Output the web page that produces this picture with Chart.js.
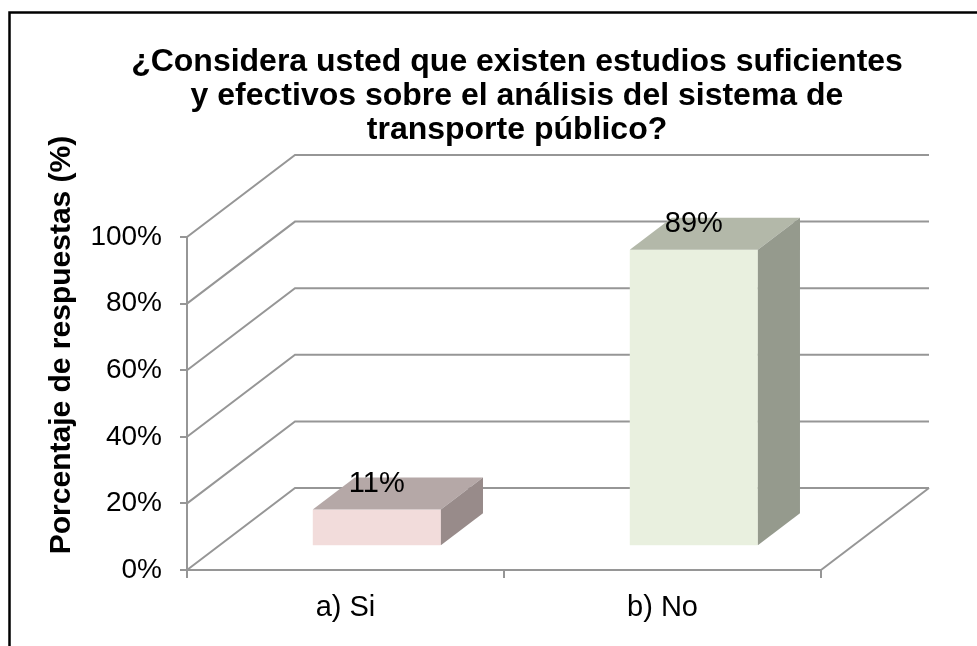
<!DOCTYPE html>
<html>
<head>
<meta charset="utf-8">
<script src="https://cdn.jsdelivr.net/npm/chart.js@4/dist/chart.umd.min.js"></script>
<style>
  html, body { margin: 0; padding: 0; background: #fff; }
  #wrap { width: 977px; height: 646px; }
</style>
</head>
<body>
<div id="wrap"><canvas id="surveyChart" width="977" height="646"></canvas></div>
<script>
// datos
const categories = ['a) Si', 'b) No'];
const percentValues = [11, 89];
const tickValues = [0, 20, 40, 60, 80, 100];
const frontColors = ['#f2dcdb', '#e9f0df'];
const topColors = ['#b5a8a7', '#b3b8a9'];
const sideColors = ['#988b8a', '#959a8d'];

const chartTitle = ['¿Considera usted que existen estudios suficientes',
                    'y efectivos sobre el análisis del sistema de',
                    'transporte público?'];
const yTitle = 'Porcentaje de respuestas (%)';

// desplazamiento de la pared del fondo (efecto 3D)
const DEPTH_X = 108, DEPTH_Y = -82;
const BAR_FRONT = 0.29, BAR_DEPTH = 0.39;
const GRID = '#969696';
const FONT = '"Liberation Sans", Arial, sans-serif';

const fake3d = {
    id: 'fake3d',
    beforeDraw(chart) {
        const ctx = chart.ctx;
        ctx.save();
        // marco exterior
        ctx.strokeStyle = '#000';
        ctx.lineWidth = 2.5;
        ctx.strokeRect(9.5, 12.5, 1000, 700);
        // titulo
        ctx.fillStyle = '#000';
        ctx.font = 'bold 32px ' + FONT;
        ctx.textAlign = 'center';
        ctx.textBaseline = 'middle';
        chartTitle.forEach((line, i) => ctx.fillText(line, 517, 62 + i * 34));
        // titulo del eje y
        ctx.font = 'bold 30px ' + FONT;
        ctx.translate(62, 345);
        ctx.rotate(-Math.PI / 2);
        ctx.fillText(yTitle, 0, 0);
        ctx.restore();
    },
    beforeDatasetsDraw(chart) {
        const ctx = chart.ctx;
        const y = chart.scales.y;
        const a = chart.chartArea;
        ctx.save();
        ctx.strokeStyle = GRID;
        ctx.lineWidth = 2;
        // lineas de cuadricula en pared lateral y fondo
        tickValues.forEach(v => {
            const py = y.getPixelForValue(v);
            ctx.beginPath();
            ctx.moveTo(a.left, py);
            ctx.lineTo(a.left + DEPTH_X, py + DEPTH_Y);
            ctx.lineTo(a.right + DEPTH_X, py + DEPTH_Y);
            ctx.stroke();
        });
        // suelo
        const py0 = y.getPixelForValue(0);
        ctx.beginPath();
        ctx.moveTo(a.right, py0);
        ctx.lineTo(a.right + DEPTH_X, py0 + DEPTH_Y);
        ctx.stroke();
        ctx.beginPath();
        ctx.moveTo(a.left, y.getPixelForValue(100));
        ctx.lineTo(a.left, py0);
        ctx.lineTo(a.right, py0);
        ctx.stroke();
        ctx.restore();
    },
    afterDatasetsDraw(chart) {
        const ctx = chart.ctx;
        const meta = chart.getDatasetMeta(0);
        const fx = DEPTH_X * BAR_FRONT, fy = DEPTH_Y * BAR_FRONT;
        const dx = DEPTH_X * BAR_DEPTH, dy = DEPTH_Y * BAR_DEPTH;
        ctx.save();
        meta.data.forEach((bar, i) => {
            const l = bar.x - bar.width / 2 + fx;
            const r = bar.x + bar.width / 2 + fx;
            const t = bar.y + fy;
            const b = bar.base + fy;
            ctx.fillStyle = frontColors[i];
            ctx.fillRect(l, t, r - l, b - t);
            ctx.fillStyle = topColors[i];
            ctx.beginPath();
            ctx.moveTo(l, t); ctx.lineTo(r, t);
            ctx.lineTo(r + dx, t + dy); ctx.lineTo(l + dx, t + dy);
            ctx.closePath(); ctx.fill();
            ctx.fillStyle = sideColors[i];
            ctx.beginPath();
            ctx.moveTo(r, t); ctx.lineTo(r + dx, t + dy);
            ctx.lineTo(r + dx, b + dy); ctx.lineTo(r, b);
            ctx.closePath(); ctx.fill();
            // etiqueta de datos
            ctx.fillStyle = '#000';
            ctx.font = '29px ' + FONT;
            ctx.textAlign = 'center';
            ctx.textBaseline = 'middle';
            ctx.fillText(percentValues[i] + '%', (l + r) / 2, t - 26);
        });
        ctx.restore();
    }
};

const ctx = document.getElementById('surveyChart').getContext('2d');
new Chart(ctx, {
    type: 'bar',
    data: {
        labels: categories,
        datasets: [{
            data: percentValues,
            backgroundColor: 'rgba(0,0,0,0)',
            borderWidth: 0,
            barPercentage: 0.404,
            categoryPercentage: 1,
        }],
    },
    options: {
        responsive: false,
        animation: false,
        events: [],
        layout: { padding: { top: 237, left: 0, right: 156, bottom: 0 } },
        plugins: {
            legend: { display: false },
            tooltip: { enabled: false },
            title: { display: false },
        },
        scales: {
            x: {
                offset: true,
                grid: { display: true, drawOnChartArea: false, drawTicks: true, tickLength: 8, offset: true, color: GRID, lineWidth: 2 },
                border: { display: false },
                ticks: { color: '#000', padding: 13, font: { family: FONT, size: 29 } },
                afterFit(scale) { scale.height = 76; },
            },
            y: {
                min: 0,
                max: 100,
                afterBuildTicks(scale) { scale.ticks = tickValues.map(v => ({ value: v })); },
                grid: { display: true, drawOnChartArea: false, drawTicks: true, tickLength: 7, color: GRID, lineWidth: 2 },
                border: { display: false },
                ticks: {
                    color: '#000',
                    padding: 18,
                    font: { family: FONT, size: 28 },
                    callback: v => v + '%',
                },
                afterFit(scale) { scale.width = 187; },
            },
        },
    },
    plugins: [fake3d],
});
</script>
</body>
</html>
